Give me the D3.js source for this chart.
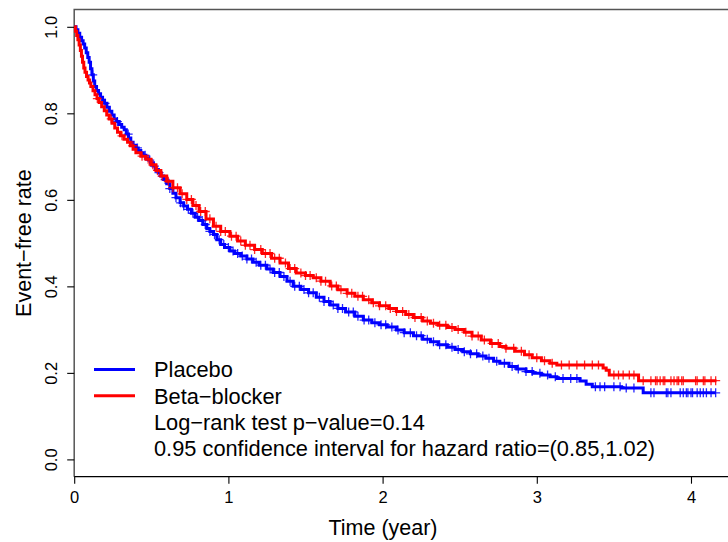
<!DOCTYPE html>
<html>
<head>
<meta charset="utf-8">
<script src="https://cdn.jsdelivr.net/npm/d3@7"></script>
<style>
  body { margin: 0; background: #fff; }
  text { font-family: "Liberation Sans", Arial, Helvetica, sans-serif; fill: #000; }
</style>
</head>
<body>
<div id="chart"></div>
<script>
// Kaplan-Meier step points (time in years, event-free rate)
const placeboTime = [0, 0.012, 0.024, 0.036, 0.048, 0.058, 0.068, 0.078, 0.088, 0.097, 0.106, 0.115, 0.124, 0.133,
  0.145, 0.158, 0.171, 0.184, 0.197, 0.212, 0.228, 0.244, 0.259, 0.275, 0.292, 0.308, 0.324, 0.338, 0.352, 0.367,
  0.382, 0.398, 0.415, 0.432, 0.448, 0.465, 0.481, 0.497, 0.512, 0.528, 0.545, 0.562, 0.58, 0.60, 0.62, 0.64, 0.66,
  0.687, 0.71, 0.735, 0.76, 0.785, 0.81, 0.835, 0.86, 0.88, 0.903, 0.925, 0.95, 0.975, 1.01, 1.04, 1.08, 1.12, 1.16,
  1.20, 1.25, 1.29, 1.335, 1.38, 1.42, 1.47, 1.52, 1.57, 1.62, 1.66, 1.71, 1.76, 1.82, 1.875, 1.93, 1.98, 2.03, 2.09,
  2.14, 2.20, 2.26, 2.31, 2.36, 2.42, 2.47, 2.52, 2.57, 2.62, 2.67, 2.72, 2.76, 2.82, 2.87, 2.93, 2.975, 3.03, 3.085,
  3.13, 3.28, 3.32, 3.36, 3.55, 3.69, 4.16]
const placeboSurv = [1.000, 0.993, 0.985, 0.976, 0.968, 0.960, 0.951, 0.940, 0.929, 0.918, 0.903, 0.889, 0.875, 0.862,
  0.853, 0.845, 0.837, 0.830, 0.823, 0.814, 0.805, 0.796, 0.787, 0.781, 0.774, 0.768, 0.762, 0.752, 0.743, 0.733,
  0.726, 0.720, 0.714, 0.709, 0.703, 0.697, 0.692, 0.686, 0.678, 0.670, 0.663, 0.655, 0.647, 0.637, 0.626, 0.615, 0.605,
  0.593, 0.586, 0.578, 0.569, 0.560, 0.552, 0.543, 0.534, 0.527, 0.520, 0.508, 0.497, 0.490, 0.482, 0.476, 0.470, 0.463, 0.456,
  0.449, 0.440, 0.432, 0.423, 0.412, 0.400, 0.393, 0.385, 0.375, 0.365, 0.357, 0.349, 0.341, 0.331, 0.322, 0.316, 0.311, 0.306, 0.299,
  0.293, 0.286, 0.278, 0.272, 0.265, 0.259, 0.254, 0.249, 0.244, 0.239, 0.234, 0.227, 0.222, 0.215, 0.209, 0.203, 0.199, 0.195, 0.191,
  0.187, 0.181, 0.174, 0.168, 0.165, 0.154, 0.154]

const betaTime = [0, 0.008, 0.016, 0.024, 0.032, 0.04, 0.047, 0.054, 0.062, 0.07, 0.08, 0.09, 0.099, 0.108,
  0.122, 0.135, 0.148, 0.162, 0.178, 0.195, 0.211, 0.227, 0.245, 0.263, 0.281, 0.30, 0.323, 0.346, 0.364, 0.382,
  0.40, 0.432, 0.465, 0.497, 0.53, 0.562, 0.60, 0.64, 0.687, 0.73, 0.77, 0.81, 0.855, 0.903, 0.95, 1.01, 1.06, 1.11,
  1.17, 1.22, 1.28, 1.335, 1.39, 1.44, 1.50, 1.55, 1.60, 1.66, 1.71, 1.77, 1.82, 1.875, 1.93, 1.98, 2.04, 2.09, 2.15,
  2.20, 2.26, 2.31, 2.36, 2.42, 2.47, 2.53, 2.58, 2.64, 2.70, 2.76, 2.80, 2.86, 2.92, 2.97, 3.03, 3.085, 3.13, 3.43,
  3.45, 3.47, 3.66, 4.165]
const betaSurv = [1.000, 0.990, 0.980, 0.970, 0.958, 0.945, 0.932, 0.918, 0.905, 0.895, 0.885, 0.877, 0.870, 0.862,
  0.852, 0.843, 0.834, 0.825, 0.815, 0.806, 0.796, 0.787, 0.777, 0.766, 0.756, 0.748, 0.740, 0.733, 0.725, 0.717,
  0.709, 0.701, 0.694, 0.681, 0.668, 0.655, 0.643, 0.628, 0.614, 0.601, 0.587, 0.573, 0.556, 0.539, 0.527, 0.516, 0.505, 0.495,
  0.485, 0.476, 0.465, 0.454, 0.441, 0.431, 0.425, 0.420, 0.412, 0.401, 0.392, 0.384, 0.377, 0.369, 0.362, 0.355, 0.349, 0.342, 0.335,
  0.328, 0.320, 0.315, 0.310, 0.305, 0.300, 0.294, 0.285, 0.276, 0.268, 0.261, 0.257, 0.250, 0.242, 0.235, 0.228, 0.222, 0.218, 0.211,
  0.206, 0.195, 0.182, 0.182]

// censoring times (+ marks)
const placeboCensor = [0.12, 0.20, 0.28, 0.35, 0.41, 0.46, 0.49, 0.52, 0.55, 0.59, 0.62, 0.66, 0.69, 0.71, 0.74, 0.77,
  0.80, 0.83, 0.85, 0.88, 0.91, 0.94, 0.97, 1.00, 1.03, 1.06, 1.09, 1.12, 1.15, 1.18, 1.21, 1.24, 1.27, 1.30, 1.33,
  1.36, 1.40, 1.43, 1.46, 1.49, 1.52, 1.55, 1.59, 1.62, 1.65, 1.68, 1.71, 1.74, 1.78, 1.81, 1.84, 1.88, 1.91, 1.95,
  1.99, 2.02, 2.06, 2.10, 2.14, 2.18, 2.22, 2.25, 2.29, 2.33, 2.37, 2.41, 2.45, 2.49, 2.53, 2.57, 2.61, 2.65, 2.69,
  2.74, 2.79, 2.84, 2.88, 2.93, 2.97, 3.02, 3.07, 3.12, 3.17, 3.22, 3.26, 3.38, 3.41, 3.44, 3.50, 3.54, 3.58, 3.63,
  3.74, 3.76, 3.84, 3.85, 3.87, 3.93, 3.95, 3.97, 3.98, 4.00, 4.01, 4.04, 4.06, 4.08, 4.10, 4.13, 4.16]
const betaCensor = [0.15, 0.24, 0.31, 0.38, 0.44, 0.48, 0.51, 0.54, 0.57, 0.61, 0.64, 0.67, 0.70, 0.73, 0.76, 0.79,
  0.82, 0.85, 0.88, 0.92, 0.95, 0.98, 1.02, 1.05, 1.08, 1.11, 1.14, 1.17, 1.21, 1.24, 1.27, 1.30, 1.33, 1.37, 1.40,
  1.43, 1.47, 1.50, 1.53, 1.57, 1.60, 1.63, 1.67, 1.70, 1.73, 1.77, 1.80, 1.84, 1.87, 1.91, 1.94, 1.98, 2.02, 2.05,
  2.09, 2.13, 2.17, 2.21, 2.25, 2.29, 2.33, 2.37, 2.41, 2.45, 2.49, 2.54, 2.58, 2.62, 2.66, 2.71, 2.75, 2.80, 2.85,
  2.90, 2.95, 3.00, 3.05, 3.10, 3.16, 3.21, 3.26, 3.31, 3.36, 3.40, 3.50, 3.53, 3.56, 3.60, 3.63, 3.69, 3.74, 3.77,
  3.78, 3.80, 3.82, 3.83, 3.87, 3.89, 3.91, 3.92, 3.94, 3.95, 4.03, 4.04, 4.08, 4.09, 4.13, 4.16]

const xTicks = [0, 1, 2, 3, 4]
const yTicks = [0, 0.2, 0.4, 0.6, 0.8, 1.0]
const legendLabels = ["Placebo", "Beta\u2212blocker"]
const legendColors = ["#0000ff", "#ff0000"]
const statLines = ["Log\u2212rank test p\u2212value=0.14", "0.95 confidence interval for hazard ratio=(0.85,1.02)"]

const W = 728, H = 542

const svg = d3.select('#chart')
  .append('svg')
  .attr('width', W)
  .attr('height', H)

svg.append('rect').attr('width', W).attr('height', H).attr('fill', '#fff')

const xScale = d3.scaleLinear().domain([0, 4.24]).range([74.2, 728])
const yScale = d3.scaleLinear().domain([-0.04, 1.04]).range([476.7, 9.5])

// box (top + left)
svg.append('path')
  .attr('d', `M${xScale(0)},${yScale(-0.04)}V${yScale(1.04)}H${W}`)
  .attr('fill', 'none')
  .attr('stroke', '#555')
  .attr('stroke-width', 1.5)

// x axis
const xaxis = d3.axisBottom(xScale).tickValues(xTicks).tickSize(7).tickPadding(4).tickFormat(d3.format('d'))
const gx = svg.append('g')
  .attr('transform', `translate(0,${yScale(-0.04)})`)
  .call(xaxis)
gx.select('.domain').attr('d', `M${xScale(0)},0H${W}`).attr('stroke', '#000').attr('stroke-width', 1.3)
gx.selectAll('.tick line').attr('stroke', '#000').attr('stroke-width', 1.1)
gx.selectAll('.tick text')
  .attr('y', 26).attr('dy', 0)
  .style('font-size', '16.5px')
  .style('font-family', '"Liberation Sans", Arial, sans-serif')

// y axis
const yaxis = d3.axisLeft(yScale).tickValues(yTicks).tickSize(7).tickFormat(d3.format('.1f'))
const gy = svg.append('g')
  .attr('transform', `translate(${xScale(0)},0)`)
  .call(yaxis)
gy.select('.domain').remove()
gy.selectAll('.tick line').attr('stroke', '#000').attr('stroke-width', 1.1)
gy.selectAll('.tick text')
  .attr('x', 0).attr('dy', 0)
  .attr('transform', 'translate(-17.5,0) rotate(-90)')
  .attr('text-anchor', 'middle')
  .style('font-size', '16.5px')
  .style('font-family', '"Liberation Sans", Arial, sans-serif')

// axis titles
svg.append('text')
  .attr('x', 383).attr('y', 535)
  .attr('text-anchor', 'middle')
  .style('font-size', '21.5px')
  .text('Time (year)')
svg.append('text')
  .attr('transform', `translate(31,${(yScale(-0.04) + yScale(1.04)) / 2}) rotate(-90)`)
  .attr('text-anchor', 'middle')
  .style('font-size', '21.5px')
  .text('Event\u2212free rate')

// curves
const series = [
  {time: placeboTime, surv: placeboSurv, censor: placeboCensor, color: legendColors[0]},
  {time: betaTime, surv: betaSurv, censor: betaCensor, color: legendColors[1]}
]
const line = d3.line()
  .x(d => xScale(d[0]))
  .y(d => yScale(d[1]))
  .curve(d3.curveStepAfter)
const bisect = d3.bisector(d => d).right

series.forEach(s => {
  const pts = s.time.map((t, i) => [t, s.surv[i]])
  svg.append('path')
    .datum(pts)
    .attr('d', line)
    .attr('fill', 'none')
    .attr('stroke', s.color)
    .attr('stroke-width', 3)
  // censor marks at the curve's level
  svg.append('g')
    .selectAll('path')
    .data(s.censor)
    .join('path')
    .attr('d', t => {
      const v = s.surv[Math.max(0, bisect(s.time, t) - 1)]
      const cx = xScale(t), cy = yScale(v)
      return `M${cx - 4.5},${cy}H${cx + 4.5}M${cx},${cy - 4.5}V${cy + 4.5}`
    })
    .attr('stroke', s.color)
    .attr('stroke-width', 1.3)
    .attr('stroke-opacity', 0.85)
})

// legend
const leg = svg.append('g')
legendLabels.forEach((lab, i) => {
  const y = 369.5 + i * 26.2
  leg.append('line')
    .attr('x1', 94).attr('x2', 135)
    .attr('y1', y).attr('y2', y)
    .attr('stroke', legendColors[i])
    .attr('stroke-width', 3)
  leg.append('text')
    .attr('x', 154).attr('y', y + 7.8)
    .style('font-size', '21.8px')
    .text(lab)
})
statLines.forEach((lab, i) => {
  leg.append('text')
    .attr('x', 154).attr('y', 369.5 + (i + 2) * 26.2 + 7.8)
    .style('font-size', '21.8px')
    .text(lab)
})
</script>
</body>
</html>
